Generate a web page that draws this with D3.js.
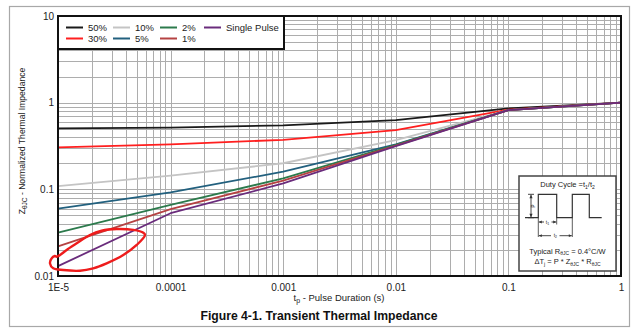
<!DOCTYPE html>
<html><head><meta charset="utf-8">
<script src="https://cdn.jsdelivr.net/npm/d3@7"></script>
<style>body{margin:0;background:#fff}svg{display:block;font-family:"Liberation Sans",Arial,sans-serif}</style>
</head><body><svg id="c" width="640" height="333"></svg>
<script>
// ---- data ----
const pulseTimes = [1e-5, 1e-4, 1e-3, 1e-2, 1e-1, 1];
const seriesNames = ["50%", "30%", "10%", "5%", "2%", "1%", "Single Pulse"];
const seriesColors = ["#1a1a1a", "#ff1f1f", "#c4c4c4", "#22607e", "#2c7a4c", "#b54242", "#6a2c7c"];
const z50 = [0.505, 0.515, 0.547, 0.63, 0.86, 1.0];
const z30 = [0.305, 0.33, 0.373, 0.483, 0.83, 1.0];
const z10 = [0.109, 0.144, 0.2, 0.37, 0.82, 1.0];
const z5 = [0.06, 0.092, 0.16, 0.33, 0.82, 1.0];
const z2 = [0.0316, 0.066, 0.134, 0.325, 0.82, 1.0];
const z1 = [0.022, 0.059, 0.126, 0.32, 0.82, 1.0];
const zSingle = [0.013, 0.053, 0.117, 0.315, 0.82, 1.0];
const seriesValues = [z50, z30, z10, z5, z2, z1, zSingle];
const xTickValues = [1e-5, 1e-4, 1e-3, 1e-2, 1e-1, 1];
const xTickLabels = ["1E-5", "0.0001", "0.001", "0.01", "0.1", "1"];
const yTickValues = [0.01, 0.1, 1, 10];
const yTickLabels = ["0.01", "0.1", "1", "10"];
// hand-drawn red annotation loop (data coordinates)
const loopT = [9.40e-6, 8.79e-6, 8.49e-6, 9.08e-6, 1.114e-5, 1.567e-5, 2.056e-5, 2.704e-5, 3.80e-5, 5.00e-5, 5.93e-5, 5.73e-5, 4.67e-5, 3.32e-5, 2.44e-5, 1.92e-5, 1.466e-5, 1.194e-5, 1.042e-5, 9.72e-6];
const loopZ = [0.01702, 0.0160, 0.0140, 0.01227, 0.01172, 0.01151, 0.01227, 0.0140, 0.01746, 0.0228, 0.0297, 0.0316, 0.0340, 0.0348, 0.0333, 0.0297, 0.0238, 0.0200, 0.01746, 0.0167];

// ---- layout ----
const svg = d3.select("#c");
const L = 58, R = 621, T = 16, B = 276;
const x = d3.scaleLog().domain([1e-5, 1]).range([L, R]);
const y = d3.scaleLog().domain([0.01, 10]).range([B, T]);

// outer frame
svg.append("rect").attr("x", 9.5).attr("y", 6.5).attr("width", 620).attr("height", 320)
  .attr("fill", "none").attr("stroke", "#a8a8a8").attr("stroke-width", 1.2);

// grid
const gx = [], gy = [];
for (let d = -5; d <= 0; d++) for (let k = 1; k <= 9; k++) { const v = k * Math.pow(10, d); if (v <= 1.0000001) gx.push(v); }
for (let d = -2; d <= 1; d++) for (let k = 1; k <= 9; k++) { const v = k * Math.pow(10, d); if (v <= 10.000001) gy.push(v); }
const grid = svg.append("g").attr("stroke", "#adadad").attr("stroke-width", 1);
grid.selectAll("line.v").data(gx).join("line").attr("class", "v")
  .attr("x1", d => Math.round(x(d)) + 0.5).attr("x2", d => Math.round(x(d)) + 0.5).attr("y1", T).attr("y2", B);
grid.selectAll("line.h").data(gy).join("line").attr("class", "h")
  .attr("y1", d => Math.round(y(d)) + 0.5).attr("y2", d => Math.round(y(d)) + 0.5).attr("x1", L).attr("x2", R);

// series
const line = d3.line().x(d => x(d[0])).y(d => y(d[1]));
seriesValues.forEach((vals, i) => {
  svg.append("path").datum(pulseTimes.map((t, j) => [t, vals[j]]))
    .attr("d", line).attr("fill", "none").attr("stroke", seriesColors[i])
    .attr("stroke-width", 1.8).attr("stroke-linejoin", "round");
});

// plot border
svg.append("rect").attr("x", L).attr("y", T).attr("width", R - L).attr("height", B - T)
  .attr("fill", "none").attr("stroke", "#111").attr("stroke-width", 2);

// axes
const xAxis = d3.axisBottom(x).tickValues(xTickValues).tickSize(0).tickPadding(8)
  .tickFormat((d, i) => xTickLabels[i]);
const gxA = svg.append("g").attr("transform", `translate(0,${B})`).call(xAxis);
gxA.select(".domain").remove();
gxA.selectAll("text").attr("font-size", 10).attr("fill", "#222").attr("font-family", "Liberation Sans, Arial, sans-serif");
const yAxis = d3.axisLeft(y).tickValues(yTickValues).tickSize(0).tickPadding(4)
  .tickFormat((d, i) => yTickLabels[i]);
const gyA = svg.append("g").attr("transform", `translate(${L},0)`).call(yAxis);
gyA.select(".domain").remove();
gyA.selectAll("text").attr("font-size", 10).attr("fill", "#222").attr("font-family", "Liberation Sans, Arial, sans-serif");

// axis labels
const xl = svg.append("text").attr("x", 339).attr("y", 301).attr("text-anchor", "middle")
  .attr("font-size", 9.5).attr("fill", "#222");
xl.append("tspan").text("t");
xl.append("tspan").attr("font-size", 7).attr("dy", 2).text("p");
xl.append("tspan").attr("dy", -2).text(" - Pulse Duration (s)");

const yl = svg.append("text").attr("transform", "translate(25,141) rotate(-90)").attr("text-anchor", "middle")
  .attr("font-size", 8.6).attr("fill", "#222");
yl.append("tspan").text("Z");
yl.append("tspan").attr("font-size", 6.5).attr("dy", 2).text("θJC");
yl.append("tspan").attr("dy", -2).text(" - Normalized Thermal Impedance");

// title
svg.append("text").attr("x", 319).attr("y", 320).attr("text-anchor", "middle")
  .attr("font-size", 12.2).attr("font-weight", "bold").attr("fill", "#111")
  .text("Figure 4-1. Transient Thermal Impedance");

// legend
svg.append("rect").attr("x", L).attr("y", T).attr("width", 226).attr("height", 33)
  .attr("fill", "#fff").attr("stroke", "#111").attr("stroke-width", 2);
const legCols = [66, 113, 160, 204];
const legRows = [27.5, 38.5];
seriesNames.forEach((name, i) => {
  const c = Math.floor(i / 2), r = i % 2;
  const lx = legCols[c], ly = legRows[r];
  svg.append("line").attr("x1", lx).attr("x2", lx + 17).attr("y1", ly).attr("y2", ly)
    .attr("stroke", seriesColors[i]).attr("stroke-width", 2);
  svg.append("text").attr("x", lx + 22).attr("y", ly + 3.5).attr("font-size", 9.5).attr("fill", "#222").text(name);
});

// red annotation loop
svg.append("path").datum(loopT.map((t, j) => [t, loopZ[j]]))
  .attr("d", d3.line().x(d => x(d[0])).y(d => y(d[1])).curve(d3.curveCatmullRomClosed))
  .attr("fill", "none").attr("stroke", "#ee1c1c").attr("stroke-width", 2.4);

// inset
const ins = svg.append("g").attr("transform", "translate(519,176)");
ins.append("rect").attr("width", 97).attr("height", 95).attr("fill", "#fff").attr("stroke", "#444").attr("stroke-width", 1.5);
const dc = ins.append("text").attr("x", 48.5).attr("y", 11).attr("text-anchor", "middle").attr("font-size", 7.5).attr("fill", "#222");
dc.append("tspan").text("Duty Cycle =t");
dc.append("tspan").attr("font-size", 5).attr("dy", 1.5).text("1");
dc.append("tspan").attr("dy", -1.5).text("/t");
dc.append("tspan").attr("font-size", 5).attr("dy", 1.5).text("2");
const st = "#333";
ins.append("path").attr("d", "M6,41.7H19.3V18.3H37.7V41.7H53.3V18.3H70.3V41.7H82.7")
  .attr("fill", "none").attr("stroke", st).attr("stroke-width", 1.2);
// P arrow
ins.append("path").attr("d", "M9,18.3H15M9,41.7H15M12,18.8V41.2").attr("stroke", st).attr("stroke-width", 0.9).attr("fill", "none");
ins.append("path").attr("d", "M12,18.8l-1.6,3.5h3.2zM12,41.2l-1.6,-3.5h3.2z").attr("fill", st);
ins.append("text").attr("transform", "translate(15.5,30) rotate(-90)").attr("text-anchor", "middle").attr("font-size", 4.5).attr("fill", "#222").text("P");
// extension lines
ins.append("path").attr("d", "M19.3,41.7V61M37.7,41.7V48.5M53.3,41.7V61").attr("stroke", st).attr("stroke-width", 0.8).attr("fill", "none");
// t1 / t2 arrows
ins.append("path").attr("d", "M19.8,46H25M32.5,46H37.2M19.8,59.7H32M40.5,59.7H52.8").attr("stroke", st).attr("stroke-width", 0.9);
ins.append("path").attr("d", "M19.8,46l3,-1.4v2.8zM37.2,46l-3,-1.4v2.8zM19.8,59.7l3,-1.4v2.8zM52.8,59.7l-3,-1.4v2.8z").attr("fill", st);
const t1 = ins.append("text").attr("x", 28.5).attr("y", 47.6).attr("text-anchor", "middle").attr("font-size", 5).attr("fill", "#222");
t1.append("tspan").text("t"); t1.append("tspan").attr("font-size", 3.5).attr("dy", 1).text("1");
const t2 = ins.append("text").attr("x", 36.3).attr("y", 61.3).attr("text-anchor", "middle").attr("font-size", 5).attr("fill", "#222");
t2.append("tspan").text("t"); t2.append("tspan").attr("font-size", 3.5).attr("dy", 1).text("2");
const ty = ins.append("text").attr("x", 48.5).attr("y", 77.5).attr("text-anchor", "middle").attr("font-size", 7.5).attr("fill", "#222");
ty.append("tspan").text("Typical R");
ty.append("tspan").attr("font-size", 5).attr("dy", 1.5).text("θJC");
ty.append("tspan").attr("dy", -1.5).text(" = 0.4°C/W");
const dt = ins.append("text").attr("x", 48.5).attr("y", 88).attr("text-anchor", "middle").attr("font-size", 7.5).attr("fill", "#222");
dt.append("tspan").text("ΔT");
dt.append("tspan").attr("font-size", 5).attr("dy", 1.5).text("j");
dt.append("tspan").attr("dy", -1.5).text(" = P * Z");
dt.append("tspan").attr("font-size", 5).attr("dy", 1.5).text("θJC");
dt.append("tspan").attr("dy", -1.5).text(" * R");
dt.append("tspan").attr("font-size", 5).attr("dy", 1.5).text("θJC");
</script></body></html>
